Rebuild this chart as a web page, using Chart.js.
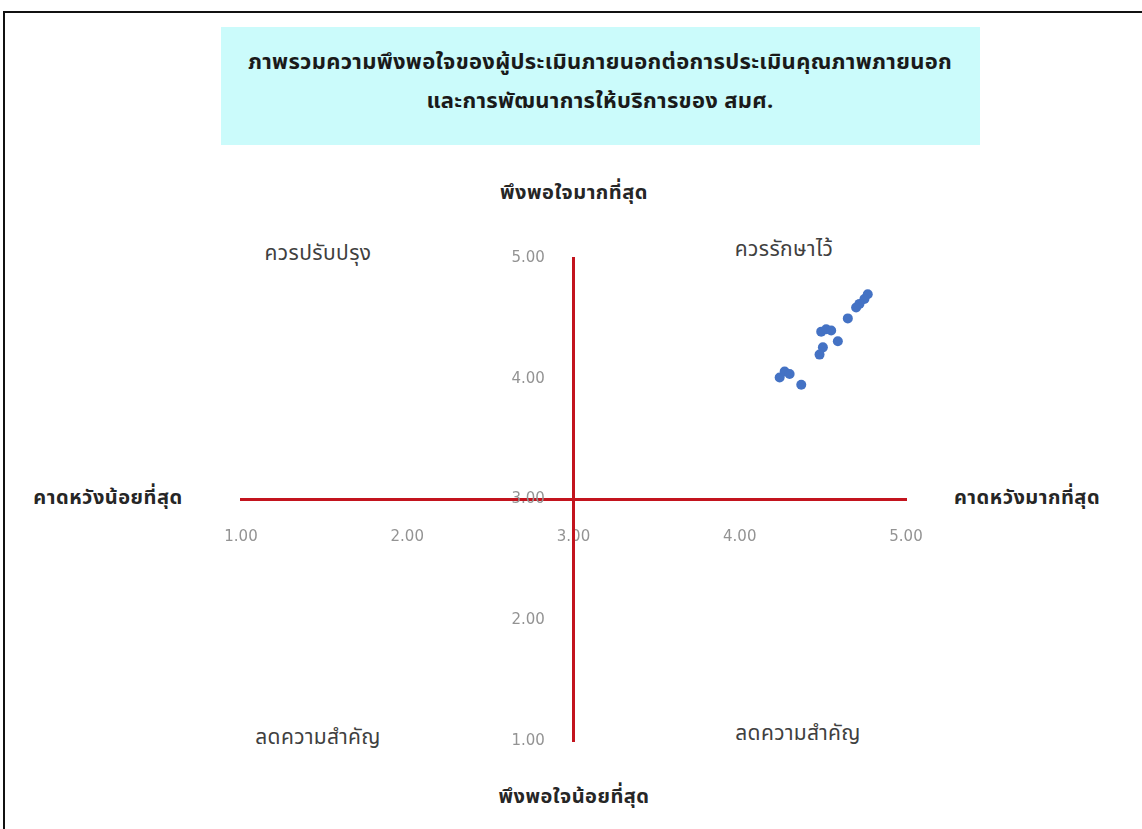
<!DOCTYPE html>
<html>
<head>
<meta charset="utf-8">
<script src="https://cdn.jsdelivr.net/npm/chart.js@4.4.1/dist/chart.umd.min.js"></script>
<style>
  html, body { margin: 0; padding: 0; background: #ffffff; }
  body { width: 1142px; height: 829px; position: relative; overflow: hidden;
         font-family: "Noto Sans Thai", "Tahoma", "Noto Sans", "DejaVu Sans", sans-serif; }
  #frame { position: absolute; left: 3px; top: 11px; width: 1200px; height: 900px;
           border-left: 2px solid #111; border-top: 2px solid #111; }
  #titlebox { position: absolute; left: 221px; top: 27px; width: 759px; height: 118px;
              background: #cbfbfb; }
  .lbl { position: absolute; transform: translate(-50%, -50%); white-space: nowrap; }
  .title { font-weight: bold; font-size: 22px; color: #1a1a1a; letter-spacing: 0.3px; }
  .axt { font-weight: bold; font-size: 20px; color: #262626; letter-spacing: 0.5px; }
  .quad { font-size: 21px; color: #404040; letter-spacing: 0.4px; }
  canvas { position: absolute; left: 0; top: 0; }
</style>
</head>
<body>
<div id="frame"></div>
<div id="titlebox"></div>
<div class="lbl title" style="left:600px; top:62px;">ภาพรวมความพึงพอใจของผู้ประเมินภายนอกต่อการประเมินคุณภาพภายนอก</div>
<div class="lbl title" style="left:600px; top:101px;">และการพัฒนาการให้บริการของ สมศ.</div>
<div class="lbl axt" style="left:574px; top:193px;">พึงพอใจมากที่สุด</div>
<div class="lbl axt" style="left:574px; top:797px;">พึงพอใจน้อยที่สุด</div>
<div class="lbl axt" style="left:108px; top:498px;">คาดหวังน้อยที่สุด</div>
<div class="lbl axt" style="left:1027px; top:498px;">คาดหวังมากที่สุด</div>
<div class="lbl quad" style="left:318px; top:253px;">ควรปรับปรุง</div>
<div class="lbl quad" style="left:784px; top:249px;">ควรรักษาไว้</div>
<div class="lbl quad" style="left:318px; top:737px;">ลดความสำคัญ</div>
<div class="lbl quad" style="left:798px; top:733px;">ลดความสำคัญ</div>
<canvas id="c" width="1142" height="829"></canvas>
<script>
// Expectation (x) and satisfaction (y) per evaluated item
const expectation = [4.77, 4.75, 4.72, 4.70, 4.65, 4.49, 4.52, 4.55, 4.59, 4.50, 4.48, 4.24, 4.27, 4.30, 4.37];
const satisfaction = [4.70, 4.66, 4.62, 4.59, 4.50, 4.39, 4.41, 4.40, 4.31, 4.26, 4.20, 4.01, 4.06, 4.04, 3.95];
const axisMin = 1;
const axisMax = 5;
const axisCross = 3;
const tickValues = [1, 2, 3, 4, 5];

const points = expectation.map((x, i) => ({ x: x, y: satisfaction[i] }));
const red = '#c3141e';
const tickFont = { family: 'DejaVu Sans', size: 15 };

new Chart(document.getElementById('c'), {
  type: 'scatter',
  data: {
    datasets: [{
      data: points,
      backgroundColor: '#4472c4',
      borderColor: '#4472c4',
      pointRadius: 5,
      pointHoverRadius: 5,
      borderWidth: 0
    }]
  },
  options: {
    responsive: false,
    animation: false,
    devicePixelRatio: 1,
    layout: { padding: { left: 241, right: 236, top: 258, bottom: 88 } },
    plugins: { legend: { display: false }, tooltip: { enabled: false } },
    scales: {
      x: {
        type: 'linear',
        min: axisMin, max: axisMax,
        position: { y: axisCross },
        afterBuildTicks: (s) => { s.ticks = tickValues.map(v => ({ value: v })); },
        grid: { display: false, drawTicks: false },
        border: { display: true, color: red, width: 3 },
        ticks: {
          padding: 29,
          color: '#939393',
          font: tickFont,
          callback: (v) => Number(v).toFixed(2)
        }
      },
      y: {
        type: 'linear',
        min: axisMin, max: axisMax,
        position: { x: axisCross },
        afterBuildTicks: (s) => { s.ticks = tickValues.map(v => ({ value: v })); },
        grid: { display: false, drawTicks: false },
        border: { display: true, color: red, width: 3 },
        ticks: {
          padding: 30,
          color: '#939393',
          font: tickFont,
          // label followed by spacing so the text sits left of the axis line
          callback: (v) => Number(v).toFixed(2) + '      '
        }
      }
    }
  }
});
</script>
</body>
</html>
